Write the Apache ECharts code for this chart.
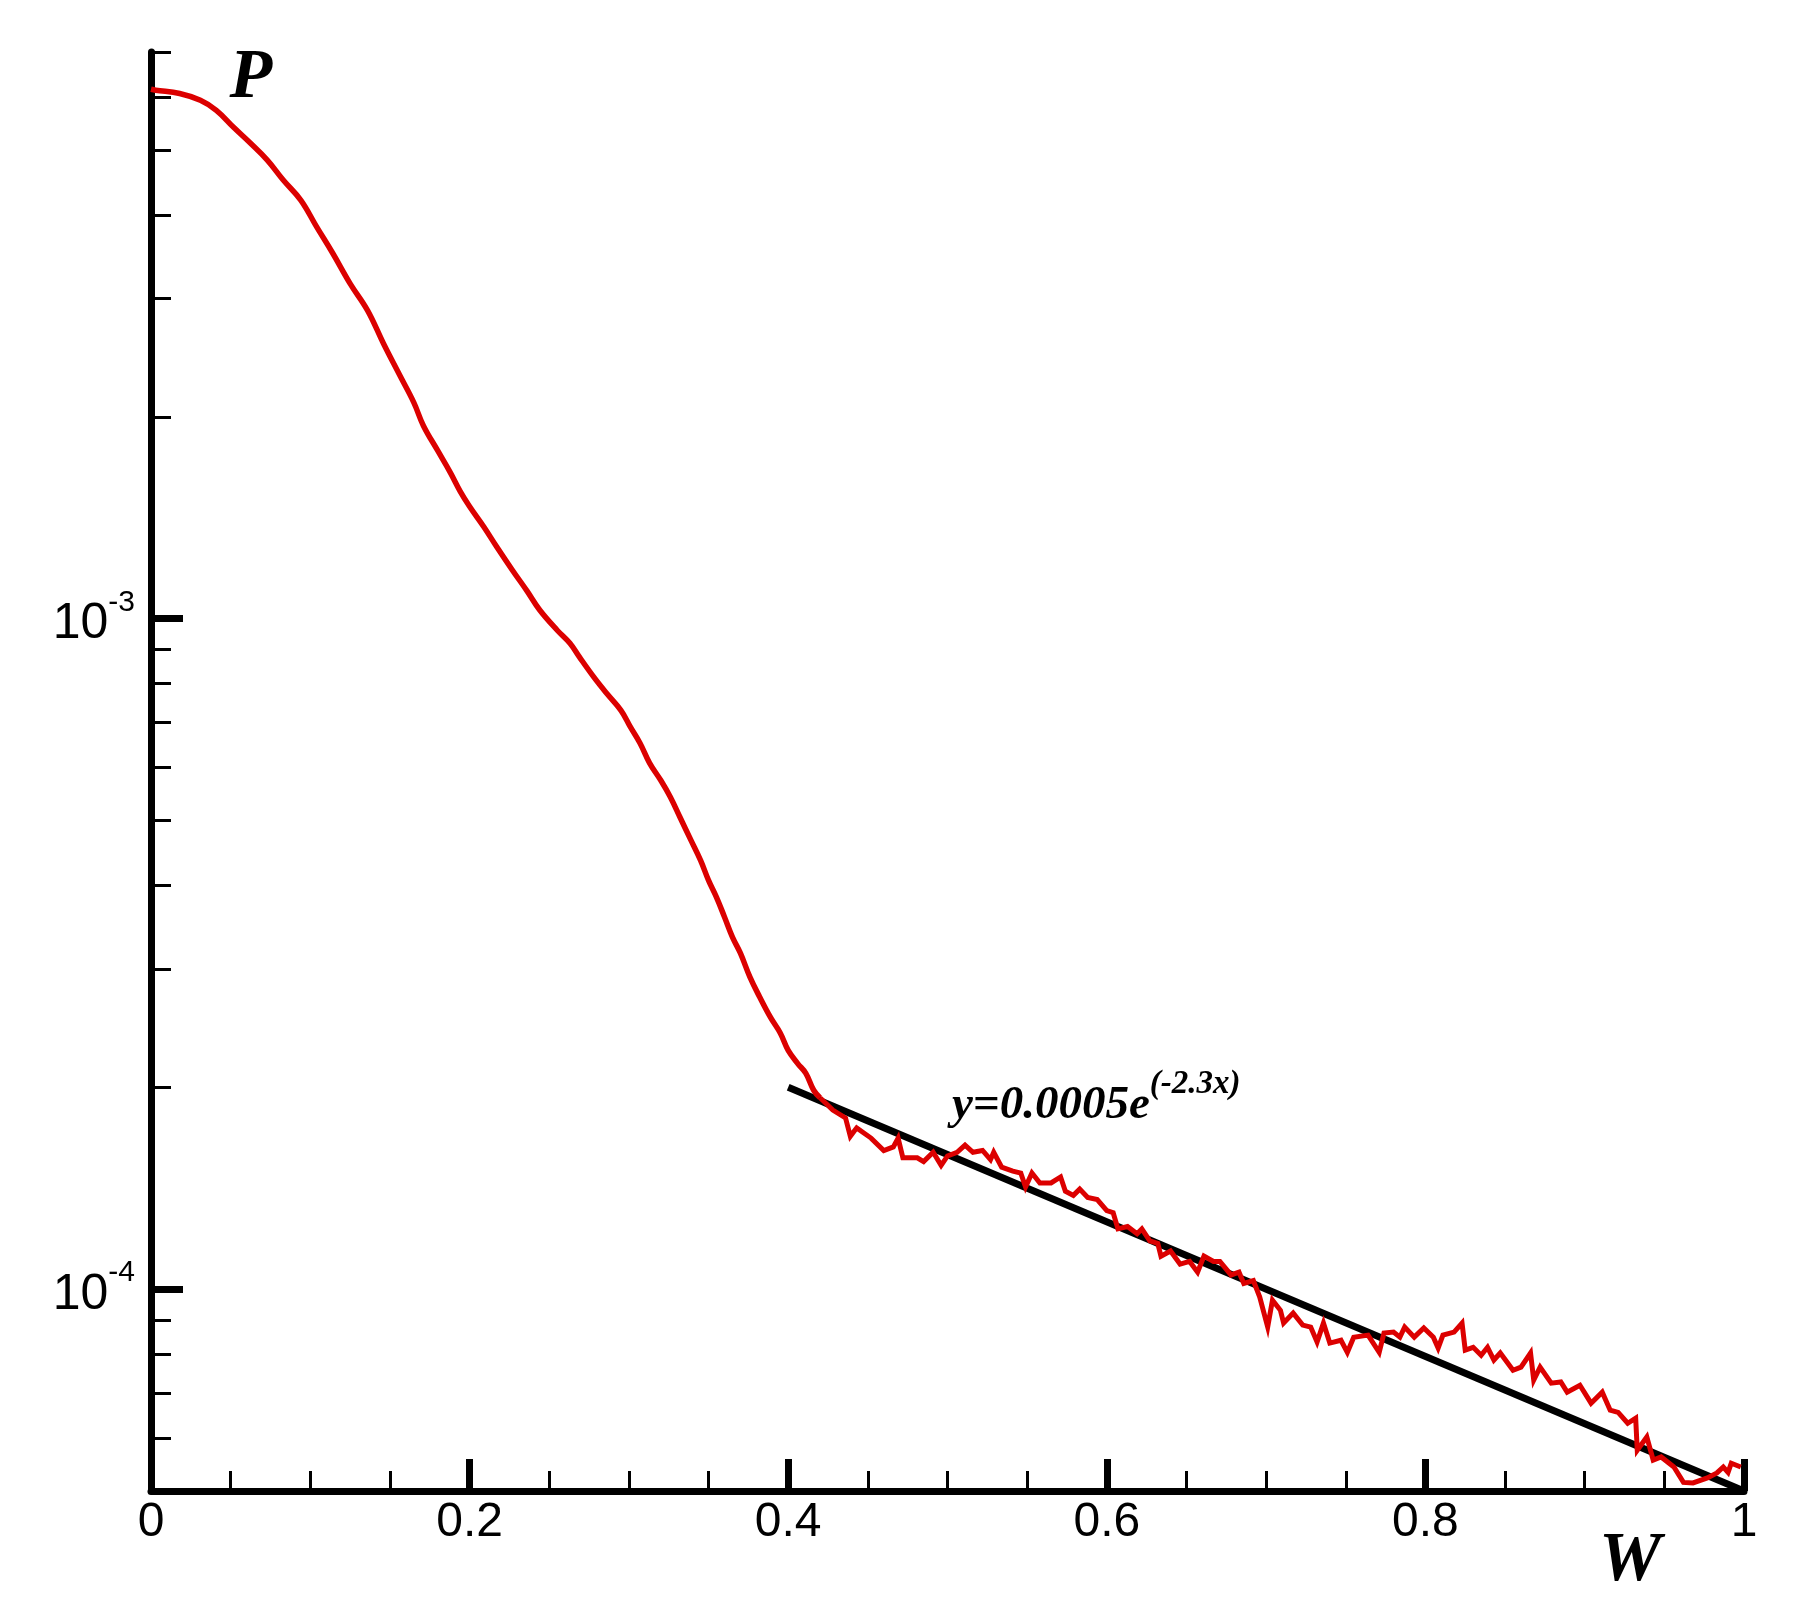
<!DOCTYPE html>
<html>
<head>
<meta charset="utf-8">
<title>P(W)</title>
<script src="https://cdn.jsdelivr.net/npm/echarts@6/dist/echarts.min.js"></script>
<style>
  html, body { margin: 0; padding: 0; background: #ffffff; }
  #chart { width: 1806px; height: 1606px; }
</style>
</head>
<body>
<div id="chart"></div>
<script>
// W (x) and P (y)
const wValues = [
  0, 0.003, 0.018, 0.031, 0.041, 0.052, 0.062, 0.073, 0.083, 0.094,
  0.104, 0.114, 0.125, 0.136, 0.146, 0.156, 0.165, 0.171, 0.180, 0.188,
  0.194, 0.200, 0.209, 0.217, 0.227, 0.236, 0.244, 0.255, 0.263, 0.269,
  0.278, 0.286, 0.295, 0.301, 0.307, 0.313, 0.320, 0.326, 0.332, 0.339,
  0.345, 0.350, 0.355, 0.360, 0.365, 0.370, 0.376, 0.382, 0.389, 0.395,
  0.400, 0.406, 0.411, 0.416,
  0.420, 0.428, 0.436, 0.439, 0.443, 0.452, 0.460, 0.466, 0.469, 0.472,
  0.481, 0.485, 0.491, 0.496, 0.500, 0.506, 0.511, 0.516, 0.522, 0.527,
  0.529, 0.534, 0.541, 0.546, 0.549, 0.553, 0.558, 0.565, 0.571, 0.574,
  0.579, 0.583, 0.588, 0.594, 0.600, 0.604, 0.607, 0.613, 0.619, 0.622,
  0.627, 0.632, 0.634, 0.640, 0.646, 0.652, 0.657, 0.661, 0.667, 0.671,
  0.678, 0.683, 0.686, 0.692, 0.696,
  0.701, 0.704, 0.709, 0.711, 0.717, 0.723, 0.728, 0.732, 0.736, 0.740,
  0.747, 0.751, 0.755, 0.764, 0.771, 0.774, 0.780, 0.784, 0.787, 0.793,
  0.799, 0.805, 0.808, 0.811, 0.818, 0.823, 0.825, 0.830, 0.835, 0.839,
  0.843, 0.847, 0.855, 0.860, 0.866, 0.868, 0.872, 0.879, 0.885, 0.889,
  0.897, 0.904, 0.911, 0.916, 0.921, 0.927, 0.932, 0.933, 0.939, 0.943,
  0.948, 0.956, 0.962, 0.968, 0.977, 0.983, 0.987, 0.990, 0.992, 0.998
];
const pValues = [
  6.16e-3, 6.14e-3, 6.07e-3, 5.93e-3, 5.73e-3, 5.40e-3, 5.13e-3, 4.83e-3, 4.51e-3, 4.21e-3,
  3.84e-3, 3.51e-3, 3.16e-3, 2.88e-3, 2.57e-3, 2.31e-3, 2.10e-3, 1.94e-3, 1.78e-3, 1.65e-3,
  1.55e-3, 1.47e-3, 1.37e-3, 1.28e-3, 1.18e-3, 1.10e-3, 1.03e-3, 9.61e-4, 9.19e-4, 8.76e-4,
  8.18e-4, 7.74e-4, 7.30e-4, 6.89e-4, 6.52e-4, 6.09e-4, 5.74e-4, 5.42e-4, 5.06e-4, 4.67e-4,
  4.36e-4, 4.07e-4, 3.84e-4, 3.59e-4, 3.35e-4, 3.17e-4, 2.92e-4, 2.73e-4, 2.54e-4, 2.41e-4,
  2.27e-4, 2.17e-4, 2.10e-4, 1.98e-4,
  1.93e-4, 1.85e-4, 1.80e-4, 1.69e-4, 1.74e-4, 1.68e-4, 1.61e-4, 1.63e-4, 1.68e-4, 1.57e-4,
  1.57e-4, 1.55e-4, 1.60e-4, 1.53e-4, 1.58e-4, 1.60e-4, 1.64e-4, 1.60e-4, 1.61e-4, 1.56e-4,
  1.60e-4, 1.52e-4, 1.50e-4, 1.49e-4, 1.42e-4, 1.49e-4, 1.44e-4, 1.44e-4, 1.47e-4, 1.40e-4,
  1.38e-4, 1.41e-4, 1.37e-4, 1.36e-4, 1.31e-4, 1.30e-4, 1.23e-4, 1.24e-4, 1.21e-4, 1.23e-4,
  1.18e-4, 1.17e-4, 1.12e-4, 1.14e-4, 1.09e-4, 1.10e-4, 1.06e-4, 1.12e-4, 1.10e-4, 1.10e-4,
  1.05e-4, 1.06e-4, 1.02e-4, 1.03e-4, 9.73e-5,
  8.78e-5, 9.63e-5, 9.30e-5, 8.90e-5, 9.21e-5, 8.84e-5, 8.78e-5, 8.34e-5, 8.90e-5, 8.31e-5,
  8.39e-5, 8.05e-5, 8.48e-5, 8.54e-5, 8.05e-5, 8.60e-5, 8.63e-5, 8.48e-5, 8.78e-5, 8.48e-5,
  8.75e-5, 8.48e-5, 8.17e-5, 8.54e-5, 8.63e-5, 8.90e-5, 8.11e-5, 8.19e-5, 7.97e-5, 8.19e-5,
  7.84e-5, 8.03e-5, 7.57e-5, 7.65e-5, 8.03e-5, 7.32e-5, 7.65e-5, 7.24e-5, 7.27e-5, 7.02e-5,
  7.19e-5, 6.76e-5, 7.02e-5, 6.60e-5, 6.55e-5, 6.31e-5, 6.42e-5, 5.75e-5, 6.02e-5, 5.56e-5,
  5.62e-5, 5.43e-5, 5.15e-5, 5.14e-5, 5.23e-5, 5.32e-5, 5.43e-5, 5.33e-5, 5.50e-5, 5.43e-5
];
// the curve is smooth up to about W = 0.42, noisy after that
const smoothUntilW = 0.42;

// fitted line y = 0.0005 e^(-2.3x), drawn from W = 0.4 to 1
const fitW = [0.4, 1.0];
const fitP = [2.0e-4, 5.0e-5];

// axis ticks
const xTicks = [0, 0.2, 0.4, 0.6, 0.8, 1];
const yMajorTicks = [1e-4, 1e-3];
const yMinorTicks = [
  6e-5, 7e-5, 8e-5, 9e-5,
  2e-4, 3e-4, 4e-4, 5e-4, 6e-4, 7e-4, 8e-4, 9e-4,
  2e-3, 3e-3, 4e-3, 5e-3, 6e-3, 7e-3
];

const curveData = wValues.map((w, i) => [w, pValues[i]]);
const smoothPart = curveData.filter(d => d[0] <= smoothUntilW);
const noisyPart = curveData.filter(d => d[0] >= smoothPart[smoothPart.length - 1][0]);
const fitData = fitW.map((w, i) => [w, fitP[i]]);

const chart = echarts.init(document.getElementById('chart'));

const axisColor = '#000000';
const curveColor = '#dc0000';
const serif = '"Liberation Serif", "Times New Roman", serif';
const sans = '"Liberation Sans", Arial, sans-serif';

const option = {
  animation: false,
  backgroundColor: '#ffffff',
  grid: {
    left: 151,
    right: 62,
    top: 52,
    bottom: 115,
    containLabel: false,
    outerBoundsMode: 'none'
  },
  xAxis: {
    type: 'value',
    min: xTicks[0],
    max: xTicks[xTicks.length - 1],
    interval: 0.2,
    axisLine: { lineStyle: { color: axisColor, width: 7 } },
    axisTick: { inside: true, length: 32, lineStyle: { color: axisColor, width: 7 } },
    minorTick: { show: true, splitNumber: 4, length: 20, lineStyle: { color: axisColor, width: 3 } },
    splitLine: { show: false },
    axisLabel: {
      color: '#000',
      fontFamily: sans,
      fontSize: 48,
      margin: 8
    }
  },
  yAxis: [
    {
      type: 'log',
      logBase: 10,
      position: 'left',
      min: 5e-5,
      max: 7e-3,
      axisLine: { lineStyle: { color: axisColor, width: 7 } },
      axisTick: {
        inside: true,
        length: 32,
        customValues: yMajorTicks,
        lineStyle: { color: axisColor, width: 7 }
      },
      minorTick: { show: false },
      splitLine: { show: false },
      axisLabel: {
        customValues: yMajorTicks,
        margin: 16,
        formatter: function (v) {
          return '{b|10}{s|' + Math.round(Math.log10(v)) + '}';
        },
        rich: {
          b: { fontFamily: sans, fontSize: 50, color: '#000', padding: [12, 0, 0, 0] },
          s: { fontFamily: sans, fontSize: 30, color: '#000', verticalAlign: 'top' }
        }
      }
    },
    {
      type: 'log',
      logBase: 10,
      position: 'left',
      offset: 0,
      min: 5e-5,
      max: 7e-3,
      axisLine: { show: false },
      axisTick: {
        inside: true,
        length: 20,
        customValues: yMinorTicks,
        lineStyle: { color: axisColor, width: 3 }
      },
      minorTick: { show: false },
      splitLine: { show: false },
      axisLabel: { show: false }
    }
  ],
  series: [
    {
      name: 'fit',
      type: 'line',
      data: fitData,
      showSymbol: false,
      lineStyle: { color: '#000000', width: 7 },
      z: 2
    },
    {
      name: 'P',
      type: 'line',
      data: smoothPart,
      smooth: 0.4,
      showSymbol: false,
      lineStyle: { color: curveColor, width: 5.5 },
      z: 3
    },
    {
      name: 'P tail',
      type: 'line',
      data: noisyPart,
      showSymbol: false,
      lineStyle: { color: curveColor, width: 5, join: 'miter' },
      z: 3
    }
  ],
  graphic: [
    {
      type: 'text',
      x: 251,
      y: 79,
      style: {
        text: 'P',
        font: 'italic bold 70px ' + serif,
        fill: '#000',
        textAlign: 'center',
        textVerticalAlign: 'middle'
      }
    },
    {
      type: 'text',
      x: 1630,
      y: 1562,
      style: {
        text: 'W',
        font: 'italic bold 70px ' + serif,
        fill: '#000',
        textAlign: 'center',
        textVerticalAlign: 'middle'
      }
    },
    {
      type: 'text',
      x: 952,
      y: 1068,
      style: {
        text: '{m|y=0.0005e}{s|(-2.3x)}',
        textAlign: 'left',
        textVerticalAlign: 'top',
        rich: {
          m: { font: 'italic bold 47px ' + serif, fill: '#000', padding: [14, 0, 0, 0] },
          s: { font: 'italic bold 33px ' + serif, fill: '#000', verticalAlign: 'top' }
        }
      }
    }
  ]
};

chart.setOption(option);
</script>
</body>
</html>
